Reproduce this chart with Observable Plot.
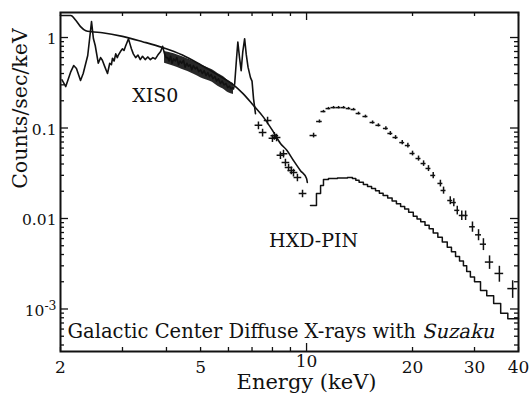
<!DOCTYPE html>
<html><head><meta charset="utf-8">
<script src="https://cdn.jsdelivr.net/npm/d3@7"></script>
<script src="https://cdn.jsdelivr.net/npm/@observablehq/plot@0.6"></script>
<style>body{margin:0;background:#fff}</style>
</head><body><div id="chart"></div>
<script>
// ---- XIS0 data (jagged trace, 2 - 7.2 keV)
const xisE = [2.02,2.07,2.14,2.18,2.22,2.28,2.32,2.39,2.42,2.45,2.48,2.51,
  2.56,2.60,2.63,2.67,2.70,2.72,2.76,2.79,2.81,2.84,2.87,2.90,2.92,2.96,3.00,3.03,3.06,3.09,3.12,3.15,3.18,
  3.22,3.27,3.32,3.37,3.42,3.48,3.54,3.60,3.66,3.72,3.78,3.85,3.90,3.95,3.99,
  4.03,4.07,4.11,4.15,4.19,4.24,4.28,4.33,4.37,4.42,4.47,4.52,4.57,4.62,4.67,4.72,4.77,4.83,4.88,4.94,
  5.00,5.06,5.12,5.18,5.24,5.30,5.36,5.42,5.49,5.55,5.62,5.69,5.76,5.83,5.90,5.97,6.04,6.10,6.16,6.20,
  6.25,6.33,6.38,6.45,6.52,6.59,6.67,6.74,6.82,6.93,7.00,7.07,7.16];
const xisV = [0.34,0.287,0.42,0.49,0.455,0.335,0.40,0.633,0.975,1.50,0.975,0.816,
  0.52,0.60,0.56,0.48,0.43,0.40,0.52,0.50,0.59,0.55,0.66,0.60,0.64,0.70,0.75,0.72,0.80,0.88,0.97,0.85,0.75,
  0.66,0.60,0.64,0.57,0.62,0.57,0.61,0.57,0.60,0.58,0.64,0.70,0.80,0.66,0.60,
  0.60,0.55,0.62,0.52,0.58,0.55,0.60,0.50,0.55,0.52,0.56,0.47,0.52,0.48,0.50,0.44,0.49,0.45,0.47,0.42,
  0.44,0.40,0.43,0.38,0.41,0.37,0.39,0.35,0.37,0.33,0.35,0.31,0.33,0.30,0.31,0.28,0.29,0.27,0.28,0.27,
  0.31,0.61,0.89,0.60,0.43,0.70,0.97,0.65,0.47,0.36,0.33,0.21,0.144];
// ---- XIS0 dense band (spread of data points, 4 - 6.2 keV)
const bandE  = [3.95,4.2,4.4,4.6,4.8,5.0,5.2,5.4,5.6,5.8,6.0,6.2];
const bandHi = [0.70,0.66,0.62,0.58,0.54,0.50,0.47,0.44,0.40,0.37,0.33,0.31];
const bandLo = [0.52,0.48,0.45,0.42,0.39,0.36,0.34,0.32,0.29,0.27,0.245,0.235];
// ---- XIS0 data (separate points above 7.2 keV)
const xisPtE = [7.30,7.50,7.75,8.00,8.10,8.22,8.43,8.60,8.71,8.89,9.05,9.18,9.42,9.74];
const xisPtV = [0.107,0.089,0.121,0.077,0.082,0.0785,0.050,0.052,0.0416,0.0366,0.034,0.0322,0.0284,0.0189];
// ---- XIS0 model
const xisModelE = [2.0,2.14,2.21,2.28,2.36,2.45,2.63,3.0,3.42,3.9,4.44,5.0,5.7,6.2,6.6,7.07,7.55,8.0,8.43,8.8,9.18,9.6,10.0,10.05];
const xisModelV = [1.75,1.75,1.55,1.32,1.19,1.16,1.13,1.03,0.90,0.775,0.64,0.50,0.37,0.30,0.24,0.177,0.131,0.094,0.0675,0.0564,0.0438,0.034,0.0277,0.025];
// ---- HXD-PIN data
const pinE = [10.47,10.88,11.17,11.54,11.93,12.33,12.74,13.16,13.6,14.05,14.7,15.4,16.0,16.8,17.3,17.9,18.7,19.4,20.0,20.8,21.5,22.2,22.9,24.0,24.5,25.6,26.2,26.8,27.6,28.3,29.6,30.8,31.8,33.1,35.3,38.5];
const pinV = [0.0826,0.118,0.152,0.164,0.168,0.168,0.168,0.164,0.160,0.1446,0.134,0.115,0.107,0.0988,0.087,0.0785,0.069,0.064,0.0523,0.046,0.0405,0.0357,0.0299,0.0244,0.0204,0.0158,0.015,0.0123,0.0108,0.0108,0.0081,0.0066,0.0052,0.0033,0.00247,0.00168];
const pinDE = [0.24,0.2,0.18,0.18,0.2,0.2,0.2,0.2,0.22,0.22,0.24,0.25,0.26,0.27,0.28,0.3,0.3,0.32,0.33,0.34,0.35,0.36,0.37,0.39,0.4,0.42,0.43,0.44,0.45,0.46,0.55,0.6,0.65,0.9,1.0,1.2];
const pinErr = [0.06,0.04,0.03,0.03,0.03,0.03,0.03,0.03,0.03,0.035,0.035,0.04,0.04,0.045,0.05,0.05,0.055,0.06,0.06,0.065,0.07,0.075,0.08,0.085,0.09,0.1,0.1,0.11,0.12,0.12,0.13,0.14,0.15,0.17,0.2,0.22];
// ---- HXD-PIN model (histogram)
const pinModelE = [10.26,10.67,10.96,11.17,11.54,12.24,13.07,13.5,13.8,14.1,14.5,14.9,15.3,15.7,16.1,16.5,17.0,17.5,18.0,18.5,19.0,19.5,20.1,20.6,21.1,21.7,22.3,22.9,23.6,24.3,25.1,25.8,26.5,27.2,27.9,28.5,29.2,30.0,31.2,32.5,34.0,35.6,37.3,40];
const pinModelV = [0.0139,0.0189,0.0232,0.027,0.0277,0.028,0.0284,0.0277,0.0265,0.0252,0.0238,0.0226,0.0214,0.0202,0.019,0.018,0.0168,0.0156,0.0146,0.0136,0.0127,0.0117,0.0106,0.0099,0.0092,0.0084,0.0077,0.0069,0.0062,0.0055,0.0048,0.0043,0.0038,0.0034,0.0030,0.0026,0.00225,0.0020,0.0016,0.0014,0.00115,0.00090,0.00078,0.00078];
// ---- ticks & labels
const xTickLabels = [2,5,10,20,30,40];
const yTickValues = [1,0.1,0.01,0.001];
const yTickLabels = ["1","0.1","0.01","10-3"];
const notes = [
  {text:"XIS0", x:3.72, y:0.196, anchor:"middle"},
  {text:"HXD-PIN", x:10.47, y:0.0048, anchor:"start"}
];
const titleMain = "Galactic Center Diffuse X-rays with ";
const titleItalic = "Suzaku";
const xLabel = "Energy (keV)";
const yLabel = "Counts/sec/keV";

const xMin=2, xMax=40, yMin=3.39e-4, yMax=1.89;
const W=529, H=394, mL=60, mR=11, mT=12, mB=43;
const fw=W-mL-mR, fh=H-mT-mB;
const near=(a,b)=>Math.abs(a-b)/b<1e-6;
const xAll = d3.scaleLog().domain([xMin,xMax]).ticks();
const yAll = d3.scaleLog().domain([yMin,yMax]).ticks();
const xMaj = xAll.filter(d=>near(d,10)), xMinT = xAll.filter(d=>!near(d,10));
const yMaj = yAll.filter(d=>yTickValues.some(m=>near(d,m))), yMinT = yAll.filter(d=>!yTickValues.some(m=>near(d,m)));

const xis = xisE.map((e,i)=>({e, v:xisV[i]}));
const band = bandE.map((e,i)=>({e, lo:bandLo[i], hi:bandHi[i]}));
const xisPt = xisPtE.map((e,i)=>({e, v:xisPtV[i]}));
const xisModel = xisModelE.map((e,i)=>({e, v:xisModelV[i]}));
const pin = pinE.map((e,i)=>({e, v:pinV[i], de:pinDE[i], err:pinErr[i]}));
const pinModel = pinModelE.map((e,i)=>({e, v:pinModelV[i]}));

const ink="#111", FF="DejaVu Serif";
const tk = {stroke:ink, strokeWidth:1.3};
const txt = {fill:ink, fontFamily:FF};
const svg = Plot.plot({
  width:W, height:H, marginLeft:mL, marginRight:mR, marginTop:mT, marginBottom:mB,
  style:{background:"#fff", color:ink, fontFamily:FF},
  x:{type:"log", domain:[xMin,xMax], axis:null},
  y:{type:"log", domain:[yMin,yMax], axis:null},
  marks:[
    Plot.areaY(band, {x:"e", y1:"lo", y2:"hi", fill:ink, fillOpacity:0.9, curve:"monotone-x"}),
    Plot.line(xis, {x:"e", y:"v", stroke:ink, strokeWidth:1.6}),
    Plot.dot(xisPt, {x:"e", y:"v", symbol:"plus", r:2.6, stroke:ink, strokeWidth:1.5}),
    Plot.line(xisModel, {x:"e", y:"v", stroke:ink, strokeWidth:1.6, curve:"monotone-x"}),
    Plot.ruleY(pin, {y:"v", x1:d=>d.e-d.de, x2:d=>d.e+d.de, stroke:ink, strokeWidth:1.5}),
    Plot.ruleX(pin, {x:"e", y1:d=>d.v*(1-d.err), y2:d=>d.v*(1+d.err), stroke:ink, strokeWidth:1.5}),
    Plot.line(pinModel, {x:"e", y:"v", stroke:ink, strokeWidth:1.5, curve:"step-after"}),
    Plot.tickX(xMinT, {x:d=>d, insetTop:fh-4, ...tk}),
    Plot.tickX(xMinT, {x:d=>d, insetBottom:fh-4, ...tk}),
    Plot.tickX(xMaj, {x:d=>d, insetTop:fh-8, ...tk}),
    Plot.tickX(xMaj, {x:d=>d, insetBottom:fh-8, ...tk}),
    Plot.tickY(yMinT, {y:d=>d, insetRight:fw-4, ...tk}),
    Plot.tickY(yMinT, {y:d=>d, insetLeft:fw-4, ...tk}),
    Plot.tickY(yMaj, {y:d=>d, insetRight:fw-8, ...tk}),
    Plot.tickY(yMaj, {y:d=>d, insetLeft:fw-8, ...tk}),
    Plot.frame({stroke:ink, strokeWidth:2}),
    Plot.text(xTickLabels.filter(d=>d!==10), {x:d=>d, y:()=>yMin, text:d=>String(d), dy:16, lineAnchor:"middle", fontSize:17, ...txt}),
    Plot.text(xTickLabels.filter(d=>d===10), {x:d=>d, y:()=>yMin, text:d=>String(d), dy:10, lineAnchor:"middle", fontSize:17, ...txt}),
    Plot.text(yTickValues, {x:()=>xMin, y:d=>d, text:(d,i)=>yTickLabels[i], dx:-4, dy:2, textAnchor:"end", fontSize:15.5, ...txt}),
    Plot.text(notes, {x:"x", y:"y", text:"text", textAnchor:d=>d.anchor, lineAnchor:"bottom", fontSize:19, ...txt}),
    Plot.text([titleMain], {x:()=>xMin, y:()=>yMin, text:d=>d, dx:7, dy:-14, textAnchor:"start", lineAnchor:"bottom", fontSize:19.5, ...txt}),
    Plot.text([xLabel], {x:()=>10, y:()=>yMin, text:d=>d, dy:37, lineAnchor:"bottom", fontSize:21, ...txt}),
    Plot.text([yLabel], {x:()=>xMin, y:()=>0.164, text:d=>d, dx:-40, rotate:-90, lineAnchor:"middle", fontSize:20.5, ...txt})
  ]
});
document.getElementById("chart").appendChild(svg);
d3.select(svg).selectAll("text").each(function(){
  const t=this.textContent;
  if (t==="10-3") {
    this.textContent="";
    d3.select(this).append("tspan").text("10");
    d3.select(this).append("tspan").attr("dy","-0.45em").attr("font-size","0.8em").text("-3");
  } else if (t===titleMain) {
    // italic word drawn as a slanted copy of the serif face (no serif italic installed)
    const len = this.getComputedTextLength();
    const x = +(this.getAttribute("x")||0), y = +(this.getAttribute("y")||0);
    const tr = this.getAttribute("transform")||"";
    const clone = this.cloneNode(false);
    clone.removeAttribute("x"); clone.removeAttribute("y");
    clone.setAttribute("transform", `${tr} translate(${x+len},${y}) skewX(-13)`);
    clone.textContent = titleItalic;
    this.parentNode.appendChild(clone);
  }
});
</script></body></html>
